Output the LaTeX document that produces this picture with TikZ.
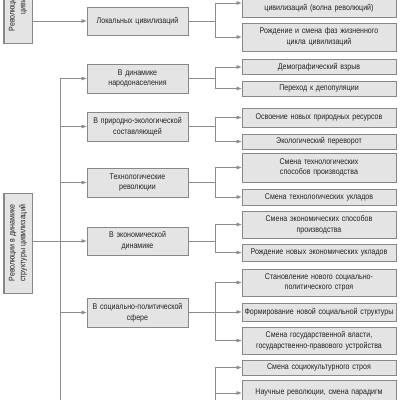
\documentclass[tikz,border=0pt]{standalone}
\usepackage{fontspec}
\setmainfont{Liberation Sans}[FakeStretch=0.85]
\usetikzlibrary{arrows.meta}
\definecolor{lncol}{HTML}{8C8C8C}
\definecolor{boxfill}{HTML}{E4E4E4}
\definecolor{boxdraw}{HTML}{888888}
\definecolor{txtcol}{HTML}{222222}
\tikzset{
  x=1pt,y=-1pt,
  box/.style={draw=boxdraw,fill=boxfill,line width=1pt,inner sep=1pt,align=center,
    text=txtcol,font=\fontsize{8.3}{10.8}\selectfont},
  rbox/.style={box,minimum width=154pt,text width=150pt},
  mbox/.style={box,minimum width=101pt,text width=97pt},
  lbox/.style={box,minimum width=28pt,minimum height=100pt},
  rtext/.style={rotate=90,text=txtcol,font=\fontsize{8.3}{10.8}\selectfont,align=center,inner sep=0pt},
  conn/.style={draw=lncol,line width=0.9pt},
  arr/.style={conn,-{Triangle[length=5pt,width=3.6pt]}}
}
\begin{document}
\begin{tikzpicture}
\useasboundingbox (0,0) rectangle (400,400);
\clip (0,0) rectangle (400,400);
\fill[white] (0,0) rectangle (400,400);
% left boxes
\node[lbox] (L1) at (18,-7) {};
\node[rtext] (L1t) at (18,-7) {Революции в динамике\\цивилизаций};
\node[lbox] (L2) at (18,243) {};
\node[rtext] (L2t) at (18,243) {Революции в динамике\\структуры цивилизаций};
% middle boxes
\node[mbox,minimum height=28pt] (m0) at (137.5,21) {Локальных цивилизаций};
\node[mbox,minimum height=29pt] (m1) at (137.5,78.5) {В динамике\\народонаселения};
\node[mbox,minimum height=29pt] (m2) at (137.5,126.5) {В природно-экологической\\составляющей};
\node[mbox,minimum height=29pt] (m3) at (137.5,182.5) {Технологические\\революции};
\node[mbox,minimum height=28pt] (m4) at (137.5,241) {В экономической\\динамике};
\node[mbox,minimum height=29pt] (m5) at (137.5,312.5) {В социально-политической\\сфере};
% right boxes
\node[rbox,minimum height=28pt] (r1) at (319,3) {Смена поколений локальных\\цивилизаций (волна революций)};
\node[rbox,minimum height=28pt] (r2) at (319,37) {Рождение и смена фаз жизненного\\цикла цивилизаций};
\node[rbox,minimum height=14.5pt] (r3) at (319,67) {Демографический взрыв};
\node[rbox,minimum height=15pt] (r4) at (319,88.5) {Переход к депопуляции};
\node[rbox,minimum height=19pt] (r5) at (319,117.5) {Освоение новых природных ресурсов};
\node[rbox,minimum height=15pt] (r6) at (319,141.5) {Экологический переворот};
\node[rbox,minimum height=29pt] (r7) at (319,167.5) {Смена технологических\\способов производства};
\node[rbox,minimum height=16pt] (r8) at (319,197) {Смена технологических укладов};
\node[rbox,minimum height=27pt] (r9) at (319,224.5) {Смена экономических способов\\производства};
\node[rbox,minimum height=17pt] (r10) at (319,252.5) {Рождение новых экономических укладов};
\node[rbox,minimum height=27pt] (r11) at (319,282.5) {Становление нового социально-\\политического строя};
\node[rbox,minimum height=18pt] (r12) at (319,312) {Формирование новой социальной структуры};
\node[rbox,minimum height=27pt] (r13) at (319,340.5) {Смена государственной власти,\\государственно-правового устройства};
\node[rbox,minimum height=15pt] (r14) at (319,367.5) {Смена социокультурного строя};
\node[rbox,minimum height=26pt] (r15) at (319,393) {Научные революции, смена парадигм};
% coordinates
\coordinate (tx) at (60,0);
\coordinate (tbot) at (60,420);
\coordinate (b0) at (215,21);
\coordinate (b1) at (215,78.5);
\coordinate (b2) at (215,126.5);
\coordinate (b3) at (215,182.5);
\coordinate (b4) at (215,241);
\coordinate (b5) at (215,312.5);
\coordinate (b6) at (215,420);
% connectors left
\draw[arr] (m0.west -| L1.east) -- (m0.west);
\draw[conn] (m1.west -| tx) -- (tbot);
\draw[arr] (m1.west -| tx) -- (m1.west);
\draw[arr] (m2.west -| tx) -- (m2.west);
\draw[arr] (m3.west -| tx) -- (m3.west);
\draw[arr] (m4.west -| L2.east) -- (m4.west);
\draw[arr] (m5.west -| tx) -- (m5.west);
% connectors right
\draw[conn] (m0.east) -- (b0);
\draw[arr] (b0) |- (r1.west);
\draw[arr] (b0) |- (r2.west);
\draw[conn] (m1.east) -- (b1);
\draw[arr] (b1) |- (r3.west);
\draw[arr] (b1) |- (r4.west);
\draw[conn] (m2.east) -- (b2);
\draw[arr] (b2) |- (r5.west);
\draw[arr] (b2) |- (r6.west);
\draw[conn] (m3.east) -- (b3);
\draw[arr] (b3) |- (r7.west);
\draw[arr] (b3) |- (r8.west);
\draw[conn] (m4.east) -- (b4);
\draw[arr] (b4) |- (r9.west);
\draw[arr] (b4) |- (r10.west);
\draw[conn] (m5.east) -- (b5);
\draw[arr] (b5) |- (r11.west);
\draw[arr] (b5) |- (r12.west);
\draw[arr] (b5) |- (r13.west);
\draw[arr] (b6) |- (r14.west);
\draw[arr] (b6) |- (r15.west);
\end{tikzpicture}
\end{document}
